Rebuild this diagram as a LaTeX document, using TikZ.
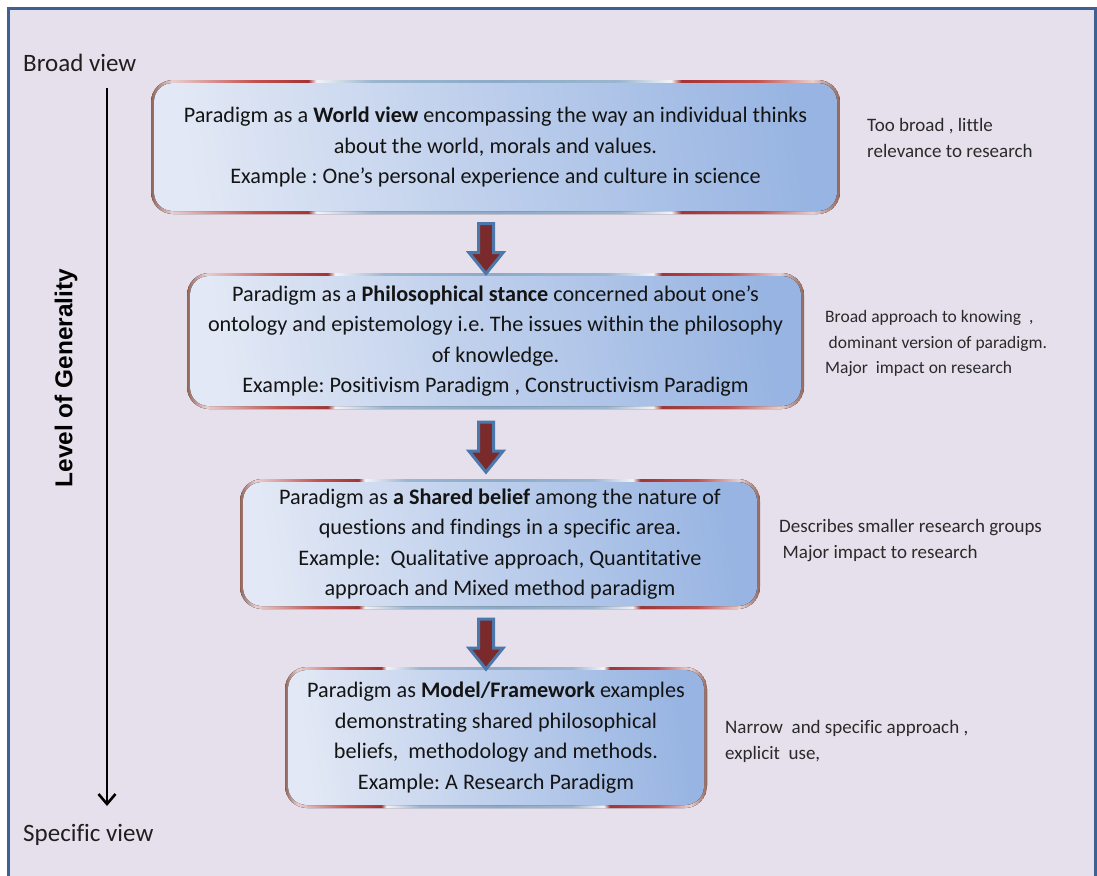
\documentclass[tikz,border=0pt]{standalone}
\usepackage{fontspec}
\setmainfont{Carlito}[Ligatures=NoCommon]
\newfontfamily\axisfont{Liberation Sans}
\usetikzlibrary{shapes.arrows,arrows.meta,calc}
\frenchspacing

\definecolor{pagebg}{HTML}{E6E0EC}
\definecolor{framecol}{HTML}{3D6190}
\definecolor{bodyL}{HTML}{E2E8F5}
\definecolor{bodyR}{HTML}{97B4E2}
\definecolor{rimbrown}{HTML}{93655A}
\definecolor{rimpink}{HTML}{E9CFCF}
\definecolor{rimred}{HTML}{C4514E}
\definecolor{rimdark}{HTML}{A33433}
\definecolor{rimwhite}{HTML}{F4F4F7}
\definecolor{rimblue}{HTML}{9BB6CF}
\definecolor{rimblueB}{HTML}{8CABC9}
\definecolor{arrowred}{HTML}{7A2A2A}
\definecolor{arrowblue}{HTML}{4C77AB}
\definecolor{notetext}{HTML}{2A2A2A}

% rim of the boxes: light-to-red, white, steel blue, white, red-to-light
\pgfdeclarehorizontalshading{rimshade}{100bp}{
  color(0bp)=(rimbrown); color(25bp)=(rimbrown);
  color(26.5bp)=(rimpink); color(32.5bp)=(rimred); color(36.4bp)=(rimdark);
  color(37bp)=(rimwhite); color(41bp)=(rimblue); color(50bp)=(rimblueB);
  color(59bp)=(rimblue); color(62.75bp)=(rimwhite); color(63.5bp)=(rimdark);
  color(69bp)=(rimred); color(73bp)=(rimpink); color(75bp)=(rimbrown);
  color(100bp)=(rimbrown)}
\pgfdeclarehorizontalshading{bodyshade}{100bp}{
  color(0bp)=(bodyL); color(25bp)=(bodyL);
  color(75bp)=(bodyR); color(100bp)=(bodyR)}

\tikzset{
  parabox/.style={rounded corners=22, align=center, inner sep=0pt,
    text=black!92,
    font=\fontsize{22.2}{30.5}\selectfont,
    path picture={
      \fill[shading=rimshade]
        (path picture bounding box.north west) rectangle
        (path picture bounding box.south east);
      \fill[shading=bodyshade, shading angle=8, rounded corners=19]
        ([shift={(3,3)}]path picture bounding box.north west) rectangle
        ([shift={(-3,-3)}]path picture bounding box.south east);
    }},
  downarrow/.style={single arrow, shape border rotate=270, fill=arrowred,
    draw=arrowblue, line width=3pt, inner sep=6pt,
    single arrow head extend=9.5pt, single arrow tip angle=78,
    minimum height=50pt},
  note/.style={anchor=west, align=left, inner sep=0pt, text=notetext,
    font=\fontsize{19}{26}\selectfont},
  smallnote/.style={note, font=\fontsize{17.5}{25.5}\selectfont},
  endlabel/.style={anchor=west, inner sep=0pt, text=black!88,
    font=\fontsize{25}{28}\selectfont},
  axislabel/.style={rotate=90, inner sep=0pt,
    font=\axisfont\bfseries\fontsize{24.4}{28}\selectfont},
  genarrow/.style={line width=2.6pt, -{Straight Barb[length=10pt,width=17pt]}}
}

\begin{document}
\begin{tikzpicture}[x=1pt,y=-1pt]
\useasboundingbox (0,0) rectangle (1097,875);
\fill[white] (0,0) rectangle (1097,875);

% page panel with its frame
\begin{scope}
  \clip (0,0) rectangle (1097,875);
  \fill[pagebg] (9,9) rectangle (1096,900);
  \draw[framecol, line width=3.2pt] (8.6,8.6) rectangle (1096,900);
\end{scope}

% the four levels
\node[parabox, minimum width=689, minimum height=134] (b1) at (495.5,147)
  {Paradigm as a \textbf{World view} encompassing the way an individual thinks\\
   about the world, morals and values.\\
   Example : One’s personal experience and culture in science};

\node[parabox, minimum width=617, minimum height=136] (b2) at (495.5,341)
  {Paradigm as a \textbf{Philosophical stance} concerned about one’s\\
   ontology and epistemology i.e. The issues within the philosophy\\
   of knowledge.\\
   Example: Positivism Paradigm , Constructivism Paradigm};

\node[parabox, minimum width=520, minimum height=130] (b3) at (500,544)
  {Paradigm as \textbf{a Shared belief} among the nature of\\
   questions and findings in a specific area.\\
   Example:\ \ Qualitative approach, Quantitative\\
   approach and Mixed method paradigm};

\node[parabox, minimum width=422, minimum height=141] (b4) at (496,737.5)
  {Paradigm as \textbf{Model/Framework} examples\\
   demonstrating shared philosophical\\
   beliefs,\ \ methodology and methods.\\
   Example: A Research Paradigm};

% block arrows between the levels
\node[downarrow] (a1) at (486,244) {};
\node[downarrow] (a2) at (486,442.5) {};
\node[downarrow] (a3) at (486,639.5) {};

% side notes
\node[note] (n1) at (867,138)
  {Too broad , little\\relevance to research};
\node[smallnote] (n2) at (825,343.5)
  {Broad approach to knowing\ \ ,\\\hspace*{3.5pt}dominant version of paradigm.\\Major\ \ impact on research};
\node[note] (n3) at (779,541)
  {Describes smaller research groups\\\hspace*{3.5pt}Major impact to research};
\node[note] (n4) at (725,741)
  {Narrow\ \ and specific approach ,\\explicit\ \ use,};

% generality axis
\node[endlabel] (broad) at (23,63) {Broad view};
\node[endlabel] (specific) at (23,835) {Specific view};
\node[axislabel] (level) at (66,378) {Level of Generality};
\coordinate (gtop) at (107,88);
\coordinate (gbot) at (107,806);
\draw[genarrow] (gtop) -- (gbot);
\end{tikzpicture}
\end{document}
